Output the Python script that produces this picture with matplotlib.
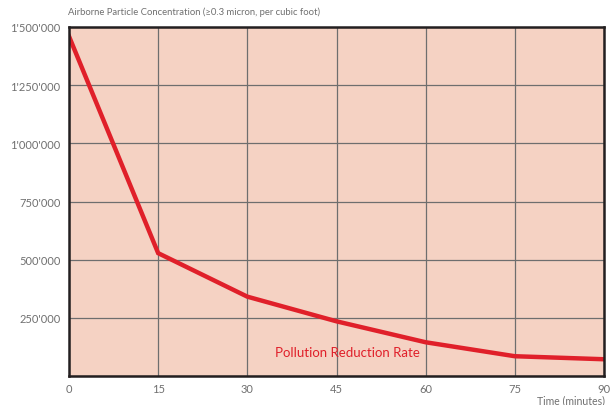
#!/usr/bin/env python3

import matplotlib
matplotlib.use('Agg')
import matplotlib.pyplot as plt

# Time (minutes) vs airborne particle count
minutes = [0, 15, 30, 45, 60, 75, 90]
particles = [1460000, 528000, 341000, 235000, 145000, 85000, 72000]
y_ticks = [0, 250000, 500000, 750000, 1000000, 1250000, 1500000]
y_labels = ['', "250'000", "500'000", "750'000", "1'000'000", "1'250'000", "1'500'000"]
x_ticks = [0, 15, 30, 45, 60, 75, 90]


def main():
    plt.rcParams['font.family'] = ['Lato', 'DejaVu Sans']
    grey = '#707070'
    red = '#e0202a'

    fig = plt.figure(figsize=(6.13, 4.06), dpi=100)
    ax = fig.add_axes([69 / 613, 1 - 377 / 406, 535 / 613, 349 / 406])
    ax.set_facecolor('#f5d2c3')

    ax.plot(minutes, particles, color=red, lw=3.2, solid_joinstyle='miter')
    ax.set_xlim(0, 90)
    ax.set_ylim(0, 1500000)
    ax.set_xticks(x_ticks)
    ax.set_yticks(y_ticks)
    ax.set_yticklabels(y_labels)
    ax.grid(True, color='#6e6e6e', lw=0.9)
    ax.set_axisbelow(True)
    ax.tick_params(length=0, labelsize=8, labelcolor=grey, pad=6)
    ax.tick_params(axis='x', pad=5)
    for sp in ax.spines.values():
        sp.set_linewidth(1.8)
        sp.set_color('#231f20')

    ax.text(34.7, 103000, 'Pollution Reduction Rate', color=red, fontsize=9.5,
            va='center', ha='left')
    fig.text(68 / 613, 1 - 12 / 406, 'Airborne Particle Concentration (\u22650.3 micron, per cubic foot)',
             color=grey, fontsize=6.8, ha='left', va='center')
    fig.text(605 / 613, 1 - 401 / 406, 'Time (minutes)', color=grey, fontsize=7.6,
             ha='right', va='center')

    fig.savefig('out.png', dpi=100)


if __name__ == '__main__':
    main()
